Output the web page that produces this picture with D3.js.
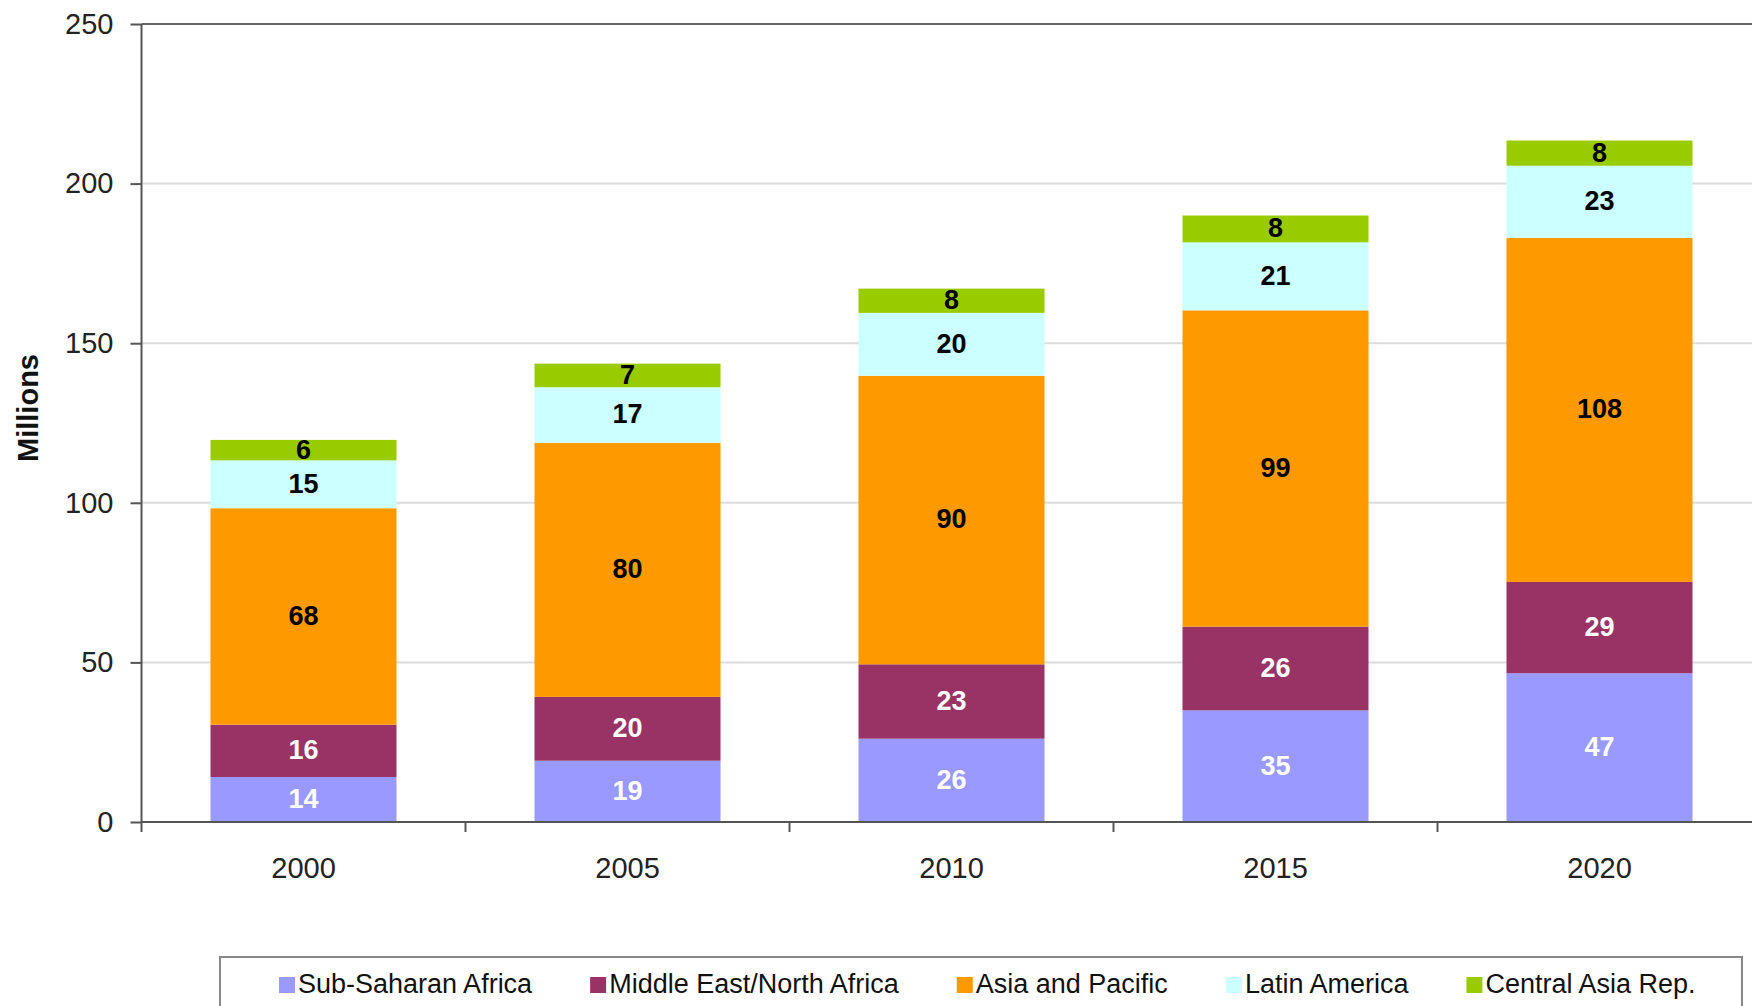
<!DOCTYPE html>
<html>
<head>
<meta charset="utf-8">
<script src="https://cdn.jsdelivr.net/npm/d3@7"></script>
<style>
  body { margin: 0; background: #fff; }
  svg { display: block; font-family: "Liberation Sans", Arial, sans-serif; }
</style>
</head>
<body>
<div id="chart"></div>
<script>
// values (millions)
const years = ["2000", "2005", "2010", "2015", "2020"];
const regions = ["Sub-Saharan Africa", "Middle East/North Africa", "Asia and Pacific", "Latin America", "Central Asia Rep."];
const subSaharan   = [14.1, 19.2, 26.1, 35.0, 46.6];
const middleEast   = [16.4, 20.0, 23.3, 26.2, 28.6];
const asiaPacific  = [67.8, 79.6, 90.4, 99.1, 107.8];
const latinAmerica = [15.0, 17.4, 19.7, 21.3, 22.6];
const centralAsia  = [6.4, 7.4, 7.6, 8.4, 7.9];
const yTicks = [0, 50, 100, 150, 200, 250];

const colors = ["#9999ff", "#993366", "#ff9900", "#ccffff", "#99cc00"];
const labelColors = ["#ffffff", "#ffffff", "#000000", "#000000", "#000000"];

const series = [subSaharan, middleEast, asiaPacific, latinAmerica, centralAsia];
const rows = years.map((yr, i) => {
  const r = { year: yr };
  regions.forEach((name, k) => r[name] = series[k][i]);
  return r;
});

const width = 1752, height = 1006;
const margin = { left: 141.5, bottom: 822, top: 24 };
const step = 324, barW = 186;
const pad = 1 - barW / step;

const x = d3.scaleBand()
  .domain(years)
  .range([margin.left, margin.left + step * years.length])
  .paddingInner(pad)
  .paddingOuter(pad / 2);

const y = d3.scaleLinear().domain([0, 250]).range([margin.bottom, margin.top]);

const svg = d3.select("#chart").append("svg")
  .attr("width", width)
  .attr("height", height)
  .attr("viewBox", [0, 0, width, height]);

// gridlines
svg.append("g")
  .selectAll("line")
  .data(yTicks.filter(d => d > 0 && d < 250))
  .join("line")
  .attr("x1", margin.left).attr("x2", width)
  .attr("y1", d => y(d)).attr("y2", d => y(d))
  .attr("stroke", "#dcdcdc")
  .attr("stroke-width", 2);

// top border of the plot area
svg.append("line")
  .attr("x1", margin.left).attr("x2", width)
  .attr("y1", y(250)).attr("y2", y(250))
  .attr("stroke", "#666")
  .attr("stroke-width", 2);

const stack = d3.stack().keys(regions);
const stacked = stack(rows);

const layers = svg.append("g")
  .selectAll("g")
  .data(stacked)
  .join("g")
  .attr("fill", (d, i) => colors[i]);

layers.selectAll("rect")
  .data(d => d)
  .join("rect")
  .attr("x", d => x(d.data.year))
  .attr("y", d => y(d[1]))
  .attr("width", x.bandwidth())
  .attr("height", d => y(d[0]) - y(d[1]));

// value labels
svg.append("g")
  .selectAll("g")
  .data(stacked)
  .join("g")
  .attr("fill", (d, i) => labelColors[i])
  .selectAll("text")
  .data(d => d)
  .join("text")
  .attr("x", d => x(d.data.year) + x.bandwidth() / 2)
  .attr("y", d => (y(d[0]) + y(d[1])) / 2 - 1)
  .attr("dy", "0.35em")
  .attr("text-anchor", "middle")
  .attr("font-size", 27)
  .attr("font-weight", "bold")
  .text(d => d3.format(".0f")(d[1] - d[0]));

// y axis
const yAxis = svg.append("g")
  .attr("transform", `translate(${margin.left},0)`)
  .call(d3.axisLeft(y).tickValues(yTicks).tickSize(11).tickPadding(17));
yAxis.select(".domain").attr("stroke", "#555").attr("stroke-width", 2)
  .attr("d", `M0,${y(250)}V${margin.bottom + 10}`);
yAxis.selectAll(".tick line").attr("stroke", "#555").attr("stroke-width", 2);
yAxis.selectAll(".tick text")
  .attr("font-size", 29)
  .attr("font-family", "Liberation Sans, Arial, sans-serif")
  .attr("fill", "#222");

// x axis
const xAxis = svg.append("g")
  .attr("transform", `translate(0,${margin.bottom})`)
  .call(d3.axisBottom(x).tickSize(0).tickPadding(0));
xAxis.select(".domain").attr("stroke", "#555").attr("stroke-width", 2)
  .attr("d", `M${margin.left},0H${width}`);
xAxis.selectAll(".tick text")
  .attr("y", 46)
  .attr("dy", "0.35em")
  .attr("font-size", 29)
  .attr("font-family", "Liberation Sans, Arial, sans-serif")
  .attr("fill", "#222");

// category boundary ticks
xAxis.append("g")
  .selectAll("line")
  .data(years.slice(1))
  .join("line")
  .attr("x1", d => x(d) - x.step() * pad / 2)
  .attr("x2", d => x(d) - x.step() * pad / 2)
  .attr("y1", 0).attr("y2", 10)
  .attr("stroke", "#555")
  .attr("stroke-width", 2);

// y axis title
svg.append("text")
  .attr("transform", `translate(38,408) rotate(-90)`)
  .attr("text-anchor", "middle")
  .attr("font-size", 29)
  .attr("font-weight", "bold")
  .attr("fill", "#111")
  .text("Millions");

// legend
svg.append("rect")
  .attr("x", 220).attr("y", 957)
  .attr("width", 1522).attr("height", 80)
  .attr("fill", "#fff")
  .attr("stroke", "#888")
  .attr("stroke-width", 2);

const legend = svg.append("g");
let lx = 279;
regions.forEach((name, i) => {
  const item = legend.append("g").attr("transform", `translate(${lx},977)`);
  item.append("rect")
    .attr("width", 16).attr("height", 16)
    .attr("fill", colors[i]);
  const t = item.append("text")
    .attr("x", 19)
    .attr("y", 7)
    .attr("dy", "0.35em")
    .attr("font-size", 27)
    .attr("fill", "#111")
    .text(name);
  lx += 19 + t.node().getComputedTextLength() + 58;
});
</script>
</body>
</html>
